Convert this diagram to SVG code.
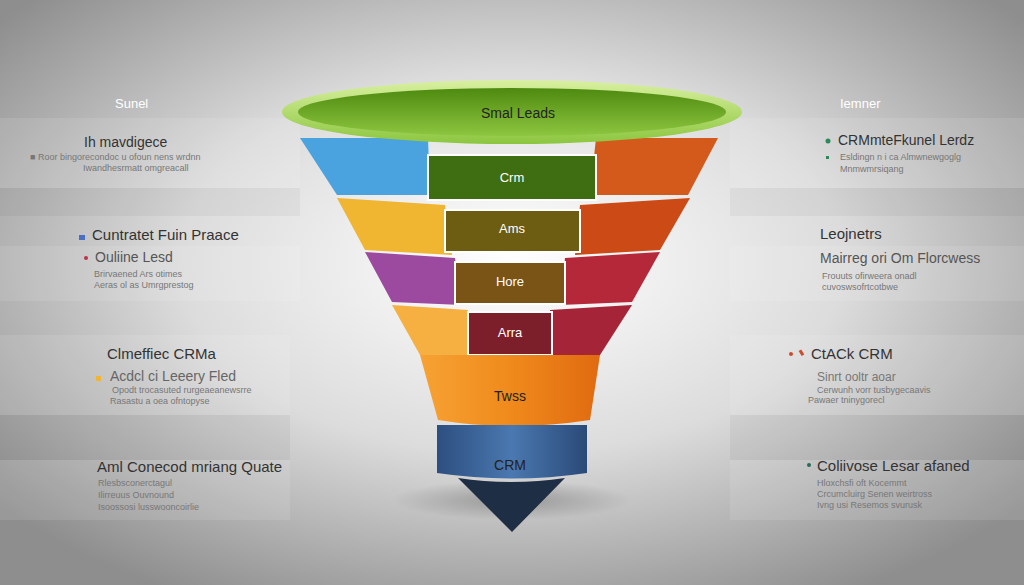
<svg xmlns="http://www.w3.org/2000/svg" width="1024" height="585" viewBox="0 0 1024 585">
<defs>
<radialGradient id="bg" cx="0.5" cy="0.45" r="0.65">
<stop offset="0" stop-color="#ffffff"/><stop offset="0.5" stop-color="#dcdcdc"/><stop offset="1" stop-color="#8e8e8e"/>
</radialGradient>
<linearGradient id="rim" x1="0" y1="0" x2="0" y2="1"><stop offset="0" stop-color="#d9f0a0"/><stop offset="1" stop-color="#8cc63f"/></linearGradient>
<linearGradient id="top" x1="0" y1="0" x2="0" y2="1"><stop offset="0" stop-color="#4e8a10"/><stop offset="1" stop-color="#8dc63f"/></linearGradient>
<linearGradient id="orange" x1="0" y1="0" x2="1" y2="0"><stop offset="0" stop-color="#f7a234"/><stop offset="0.5" stop-color="#f08a1c"/><stop offset="1" stop-color="#e06a10"/></linearGradient>
<linearGradient id="blue" x1="0" y1="0" x2="1" y2="0"><stop offset="0" stop-color="#2d4f80"/><stop offset="0.5" stop-color="#4a78b0"/><stop offset="1" stop-color="#2a4a78"/></linearGradient>
<radialGradient id="shadow" cx="0.5" cy="0.5" r="0.5"><stop offset="0" stop-color="#000" stop-opacity="0.25"/><stop offset="1" stop-color="#000" stop-opacity="0"/></radialGradient>
</defs>
<style>
.t{font-family:"Liberation Sans",Arial,sans-serif}
.h{font-size:14px;fill:#333}
.hb{font-size:15px;fill:#333}
.s{font-size:9px;fill:#777}
.w{font-size:13px;fill:#fff}
.lab{font-size:14px;fill:#222;text-anchor:middle}
.band{fill:#ffffff;opacity:0.1}
.bandd{fill:#000;opacity:0.04}
.inner{stroke:#fff;stroke-width:2}
</style>
<rect width="1024" height="585" fill="url(#bg)"/>
<g id="bands">
<rect class="band" x="0" y="118" width="300" height="70"/>
<rect class="bandd" x="0" y="188" width="300" height="28"/>
<rect class="band" x="0" y="246" width="300" height="55"/>
<rect class="band" x="0" y="335" width="290" height="80"/>
<rect class="bandd" x="0" y="415" width="290" height="45"/>
<rect class="band" x="0" y="460" width="290" height="60"/>
<rect class="band" x="730" y="118" width="294" height="70"/>
<rect class="bandd" x="730" y="188" width="294" height="28"/>
<rect class="band" x="730" y="246" width="294" height="55"/>
<rect class="band" x="730" y="335" width="294" height="80"/>
<rect class="bandd" x="730" y="415" width="294" height="45"/>
<rect class="band" x="730" y="460" width="294" height="60"/>
</g>
<ellipse cx="512" cy="500" rx="120" ry="20" fill="url(#shadow)"/>
<g id="funnel">
<polygon points="300,138 428,138 430,195 337,195" fill="#4aa3df"/>
<polygon points="596,138 718,138 688,195 590,195" fill="#d45a1c"/>
<rect x="428" y="155" width="168" height="45" fill="#3f6d12" class="inner"/>
<polygon points="337,198 445,205 452,255 365,250" fill="#f0b531"/>
<polygon points="580,205 690,198 660,250 575,255" fill="#cc4a16"/>
<rect x="445" y="210" width="135" height="42" fill="#6c5d12" class="inner"/>
<polygon points="365,252 455,258 462,305 392,302" fill="#9c4aa0"/>
<polygon points="565,258 660,252 632,302 560,305" fill="#b4283a"/>
<rect x="455" y="262" width="110" height="42" fill="#7a5316" class="inner"/>
<polygon points="392,305 468,310 470,355 420,355" fill="#f6b042"/>
<polygon points="550,310 632,305 600,355 552,355" fill="#a52438"/>
<rect x="468" y="312" width="84" height="43" fill="#7c1f2a" class="inner"/>
<path d="M420,355 L600,355 L590,420 Q512,432 438,420 Z" fill="url(#orange)"/>
<path d="M437,425 L587,425 L587,473 Q512,484 437,473 Z" fill="url(#blue)"/>
<path d="M458,478 Q512,486 565,478 L512,532 Z" fill="#1e2e45"/>
<ellipse cx="512" cy="112" rx="230" ry="32" fill="url(#rim)"/>
<ellipse cx="512" cy="112" rx="214" ry="24" fill="url(#top)"/>
</g>
<g id="labels">
<text class="t lab" x="518" y="118" style="fill:#222">Smal Leads</text>
<text class="t lab" x="512" y="182" style="fill:#fff;font-size:13px">Crm</text>
<text class="t lab" x="512" y="233" style="fill:#fff;font-size:13px">Ams</text>
<text class="t lab" x="510" y="286" style="fill:#fff;font-size:13px">Hore</text>
<text class="t lab" x="510" y="337" style="fill:#fff;font-size:13px">Arra</text>
<text class="t lab" x="510" y="401">Twss</text>
<text class="t lab" x="510" y="470">CRM</text>
</g>
<g id="left-text" class="t">
<text class="w" x="115" y="108">Sunel</text>
<text class="h" x="84" y="147">Ih mavdigece</text>
<text class="s" x="30" y="160">■ Roor bingorecondoc u ofoun nens wrdnn</text>
<text class="s" x="83" y="171">Iwandhesrmatt omgreacall</text>
<rect x="79" y="235" width="6" height="5" fill="#4a6fc4"/>
<text class="hb" x="92" y="240">Cuntratet Fuin Praace</text>
<circle cx="86" cy="258" r="2" fill="#c0304a"/>
<text class="h" x="95" y="262" style="fill:#555">Ouliine Lesd</text>
<text class="s" x="94" y="277">Brirvaened Ars otimes</text>
<text class="s" x="94" y="288">Aeras ol as Umrgprestog</text>
<text class="hb" x="107" y="359">Clmeffiec CRMa</text>
<rect x="96" y="376" width="5" height="5" fill="#f0b531"/>
<text class="h" x="110" y="381" style="fill:#666">Acdcl ci Leeery Fled</text>
<text class="s" x="112" y="393">Opodt trocasuted rurgeaeanewsrre</text>
<text class="s" x="110" y="404">Rasastu a oea ofntopyse</text>
<text class="hb" x="97" y="472">Aml Conecod mriang Quate</text>
<text class="s" x="98" y="486">Rlesbsconerctagul</text>
<text class="s" x="98" y="498">Ilirreuus Ouvnound</text>
<text class="s" x="98" y="510">Isoossosi lusswooncoirlie</text>
</g>
<g id="right-text" class="t">
<text class="w" x="840" y="108">Iemner</text>
<circle cx="828" cy="141" r="2.5" fill="#2a8a5a"/>
<text class="h" x="838" y="145">CRMmteFkunel Lerdz</text>
<rect x="826" y="156" width="3" height="3" fill="#2a8a5a"/>
<text class="s" x="840" y="160">Esldingn n i ca Almwnewgoglg</text>
<text class="s" x="840" y="172">Mnmwmrsiqang</text>
<text class="hb" x="820" y="239">Leojnetrs</text>
<text class="h" x="820" y="263" style="fill:#555">Mairreg ori Om Florcwess</text>
<text class="s" x="822" y="279">Frouuts ofirweera onadl</text>
<text class="s" x="822" y="290">cuvoswsofrtcotbwe</text>
<circle cx="791" cy="354" r="2" fill="#d04a2a"/>
<rect x="800" y="350" width="3" height="6" fill="#d04a2a" transform="rotate(-30 801 353)"/>
<text class="hb" x="811" y="359">CtACk CRM</text>
<text class="h" x="817" y="381" style="fill:#777;font-size:12px">Sinrt ooltr aoar</text>
<text class="s" x="817" y="393">Cerwunh vorr tusbygecaavis</text>
<text class="s" x="808" y="403">Pawaer tninygorecl</text>
<circle cx="809" cy="465" r="2" fill="#2a6a5a"/>
<text class="hb" x="817" y="471">Coliivose Lesar afaned</text>
<text class="s" x="817" y="486">Hloxchsfi oft Kocemmt</text>
<text class="s" x="817" y="497">Crcumcluirg Senen weirtross</text>
<text class="s" x="817" y="508">Ivng usi Resemos svurusk</text>
</g>
</svg>
